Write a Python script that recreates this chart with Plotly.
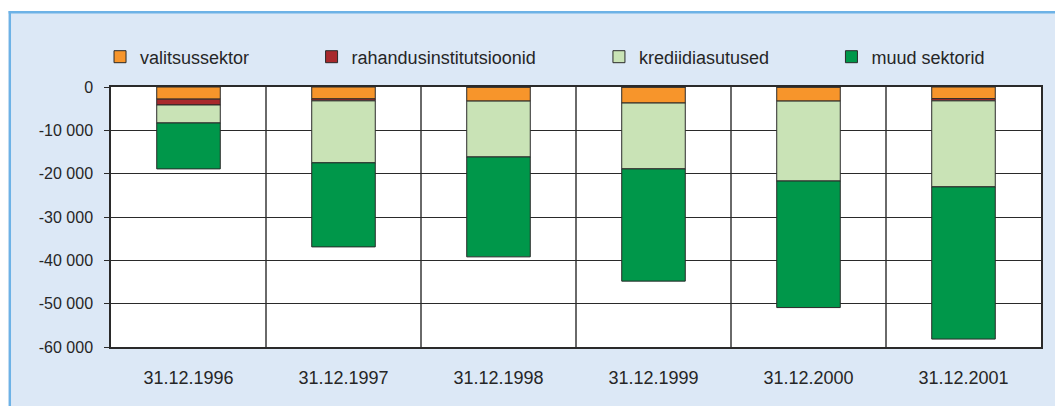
import plotly.graph_objects as go

categories = ["31.12.1996", "31.12.1997", "31.12.1998", "31.12.1999", "31.12.2000", "31.12.2001"]
series_names = ["valitsussektor", "rahandusinstitutsioonid", "krediidiasutused", "muud sektorid"]
valitsussektor = [-2800, -2750, -3250, -3700, -3250, -2700]
rahandusinstitutsioonid = [-1350, -450, 0, 0, 0, -500]
krediidiasutused = [-4150, -14300, -12900, -15200, -18450, -19850]
muud_sektorid = [-10600, -19400, -23050, -25900, -29200, -35120]
y_tick_vals = [0, -10000, -20000, -30000, -40000, -50000, -60000]
y_tick_text = ["0", "-10 000", "-20 000", "-30 000", "-40 000", "-50 000", "-60 000"]

colors = ["#f7952b", "#a8292c", "#c9e3b6", "#00974a"]
series_values = [valitsussektor, rahandusinstitutsioonid, krediidiasutused, muud_sektorid]
legend_ids = ["legend", "legend2", "legend3", "legend4"]

FONT = "Liberation Sans, Arial, sans-serif"
TXT = "#262626"

FW, FH = 1055, 406
# plot area in screen px: left 111, right 1043, top 87, bottom 347
L, R, T, B = 111, 1043, 87, 347
W, H = R - L, B - T
def px_x(p):  # screen px -> paper
    return (p - L) / W
def px_y(p):
    return (B - p) / H

fig = go.Figure()
for name, vals, col, lg in zip(series_names, series_values, colors, legend_ids):
    fig.add_trace(go.Bar(
        x=categories, y=vals, name=name, legend=lg,
        marker=dict(color=col, line=dict(color="#2a2a2a", width=1)),
        width=0.41,
    ))

legend_text_px = [140, 352, 640, 873]
legend_common = dict(orientation="h", xanchor="left", yanchor="middle", y=px_y(57),
                     bgcolor="rgba(0,0,0,0)", borderwidth=0,
                     font=dict(family=FONT, size=18, color=TXT))
layout_legends = {}
for lg, tp in zip(legend_ids, legend_text_px):
    layout_legends[lg] = dict(x=px_x(tp - 40), **legend_common)

fig.update_layout(
    width=FW, height=FH,
    margin=dict(l=L, r=FW - R, t=T, b=FH - B, pad=0),
    paper_bgcolor="#dce8f6",
    plot_bgcolor="#ffffff",
    barmode="relative",
    showlegend=True,
    font=dict(family=FONT, size=17, color=TXT),
    **layout_legends,
)

fig.update_xaxes(
    type="category", tickson="boundaries", showgrid=True, gridcolor="#6a6a6a", gridwidth=1.5,
    ticks="", showline=True, linecolor="#2a2a2a", linewidth=1.5, mirror=True,
    tickfont=dict(family=FONT, size=18, color=TXT), ticklabelstandoff=14,
)
fig.update_yaxes(
    range=[-60000, 0], tickvals=y_tick_vals, ticktext=y_tick_text,
    showgrid=True, gridcolor="#2a2a2a", gridwidth=1.3, zeroline=False,
    ticks="outside", ticklen=5, tickcolor="#2a2a2a", tickwidth=1.3,
    showline=True, linecolor="#2a2a2a", linewidth=1.5, mirror=True,
    tickfont=dict(family=FONT, size=16, color=TXT), ticklabelstandoff=8,
)

# white margin strips and blue frame lines outside the plot area
fig.add_shape(type="rect", xref="paper", yref="paper", x0=-0.3, x1=1.2, y0=px_y(11), y1=px_y(-20),
              fillcolor="#ffffff", line=dict(width=0), layer="above")
fig.add_shape(type="rect", xref="paper", yref="paper", x0=px_x(-20), x1=px_x(8.4), y0=px_y(430), y1=px_y(-20),
              fillcolor="#ffffff", line=dict(width=0), layer="above")
fig.add_shape(type="line", xref="paper", yref="paper", x0=px_x(8.4), x1=px_x(1080), y0=px_y(12.2), y1=px_y(12.2),
              line=dict(color="#6db2e6", width=2.4), layer="above")
fig.add_shape(type="line", xref="paper", yref="paper", x0=px_x(9.6), x1=px_x(9.6), y0=px_y(11), y1=px_y(430),
              line=dict(color="#6db2e6", width=2.4), layer="above")

fig.write_html(
    "out.html",
    config={"displayModeBar": False},
    post_script="document.body.style.margin='0';document.documentElement.style.overflow='hidden';",
)
